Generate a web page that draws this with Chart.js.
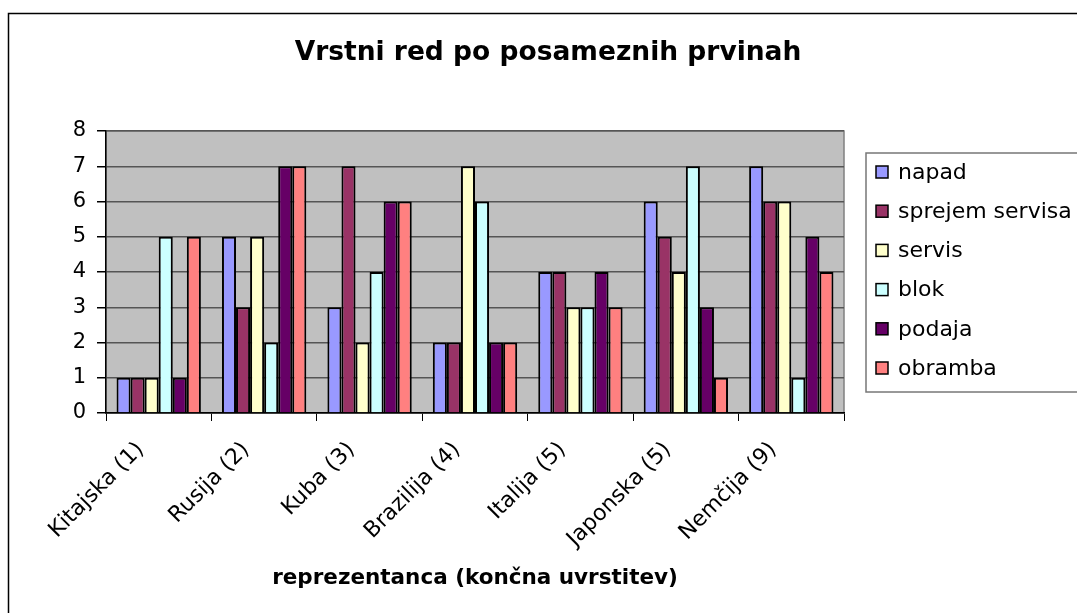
<!DOCTYPE html>
<html>
<head>
<meta charset="utf-8">
<title>Vrstni red po posameznih prvinah</title>
<script src="https://cdn.jsdelivr.net/npm/chart.js@4.4.0/dist/chart.umd.min.js"></script>
<style>
    html, body { margin: 0; padding: 0; background: #fff; }
    #wrap { width: 1077px; height: 613px; }
</style>
</head>
<body>
<div id="wrap"><canvas id="rankChart" width="1077" height="613"></canvas></div>
<script>
// reprezentance in uvrstitve po prvinah
var teams = ['Kitajska (1)', 'Rusija (2)', 'Kuba (3)', 'Brazilija (4)', 'Italija (5)', 'Japonska (5)', 'Nemčija (9)'];
var napad = [1, 5, 3, 2, 4, 6, 7];
var sprejem = [1, 3, 7, 2, 4, 5, 6];
var servis = [1, 5, 2, 7, 3, 4, 6];
var blok = [5, 2, 4, 6, 3, 7, 1];
var podaja = [1, 7, 6, 2, 4, 3, 5];
var obramba = [5, 7, 6, 2, 3, 1, 4];
var yTicks = [0, 1, 2, 3, 4, 5, 6, 7, 8];

var chartTitle = 'Vrstni red po posameznih prvinah';
var FONT = '"DejaVu Sans", "Liberation Sans", Arial, sans-serif';
Chart.defaults.font.family = FONT;
Chart.defaults.color = '#000';

// okvir, naslov, sivo ozadje risalne ploskve in legenda
var chartFrame = {
    id: 'chartFrame',
    beforeDraw: function(chart) {
        var ctx = chart.ctx, a = chart.chartArea;
        ctx.save();
        ctx.fillStyle = '#fff';
        ctx.fillRect(0, 0, chart.width, chart.height);
        ctx.strokeStyle = '#000';
        ctx.lineWidth = 1.5;
        ctx.strokeRect(8.5, 13.5, chart.width + 20, chart.height + 20);
        ctx.fillStyle = '#c0c0c0';
        ctx.fillRect(a.left, a.top, a.right - a.left, a.bottom - a.top);
        ctx.strokeStyle = '#808080';
        ctx.strokeRect(a.left, a.top, a.right - a.left, a.bottom - a.top);

        ctx.fillStyle = '#000';
        ctx.font = 'bold 26.5px ' + FONT;
        ctx.textAlign = 'center';
        ctx.textBaseline = 'middle';
        ctx.fillText(chartTitle, 548, 53);
        ctx.restore();
    },
    afterDraw: function(chart) {
        var ctx = chart.ctx;
        ctx.save();
        ctx.strokeStyle = '#777';
        ctx.lineWidth = 1.5;
        ctx.strokeRect(866, 153, 300, 239);
        ctx.font = '22px ' + FONT;
        ctx.textBaseline = 'middle';
        ctx.textAlign = 'left';
        chart.data.datasets.forEach(function(ds, i) {
            var y = 172 + i * 39.2;
            ctx.fillStyle = ds.backgroundColor;
            ctx.fillRect(876, y - 6, 12, 12);
            ctx.strokeStyle = '#000';
            ctx.strokeRect(876, y - 6, 12, 12);
            ctx.fillStyle = '#000';
            ctx.fillText(ds.label, 898, y + 1);
        });
        ctx.restore();
    }
};

var ctx = document.getElementById('rankChart').getContext('2d');
var rankChart = new Chart(ctx, {
    type: 'bar',
    data: {
        labels: teams,
        datasets: [
            { label: 'napad', data: napad, backgroundColor: '#9999ff' },
            { label: 'sprejem servisa', data: sprejem, backgroundColor: '#993366' },
            { label: 'servis', data: servis, backgroundColor: '#ffffcc' },
            { label: 'blok', data: blok, backgroundColor: '#ccffff' },
            { label: 'podaja', data: podaja, backgroundColor: '#660066' },
            { label: 'obramba', data: obramba, backgroundColor: '#ff8080' }
        ]
    },
    options: {
        responsive: false,
        devicePixelRatio: 1,
        animation: false,
        datasets: {
            bar: {
                borderColor: '#000',
                borderWidth: 2,
                barPercentage: 1,
                categoryPercentage: 0.8
            }
        },
        layout: { padding: { top: 131, right: 233, bottom: 0, left: 0 } },
        plugins: {
            legend: { display: false },
            tooltip: { enabled: false },
            title: { display: false }
        },
        scales: {
            x: {
                offset: true,
                grid: { offset: true, drawOnChartArea: false, drawTicks: true, tickLength: 8, color: '#000', lineWidth: 1 },
                border: { display: true, color: '#000', width: 1.5 },
                ticks: { autoSkip: false, maxRotation: 45, minRotation: 45, padding: 16, labelOffset: -18, color: '#000', font: { size: 22 } },
                title: {
                    display: true,
                    text: 'reprezentanca (končna uvrstitev)',
                    color: '#000',
                    font: { size: 21.5, weight: 'bold' },
                    padding: { top: 0, bottom: 22 }
                },
                afterFit: function(scale) { scale.height = 200; }
            },
            y: {
                min: 0,
                max: 8,
                afterBuildTicks: function(scale) {
                    scale.ticks = yTicks.map(function(v) { return { value: v }; });
                },
                ticks: { padding: 11, color: '#000', font: { size: 21 } },
                grid: { color: '#555', lineWidth: 1.5, tickLength: 9, tickColor: '#000' },
                border: { color: '#000', width: 1.5 },
                afterFit: function(scale) { scale.width = 106; }
            }
        }
    },
    plugins: [chartFrame]
});
</script>
</body>
</html>
